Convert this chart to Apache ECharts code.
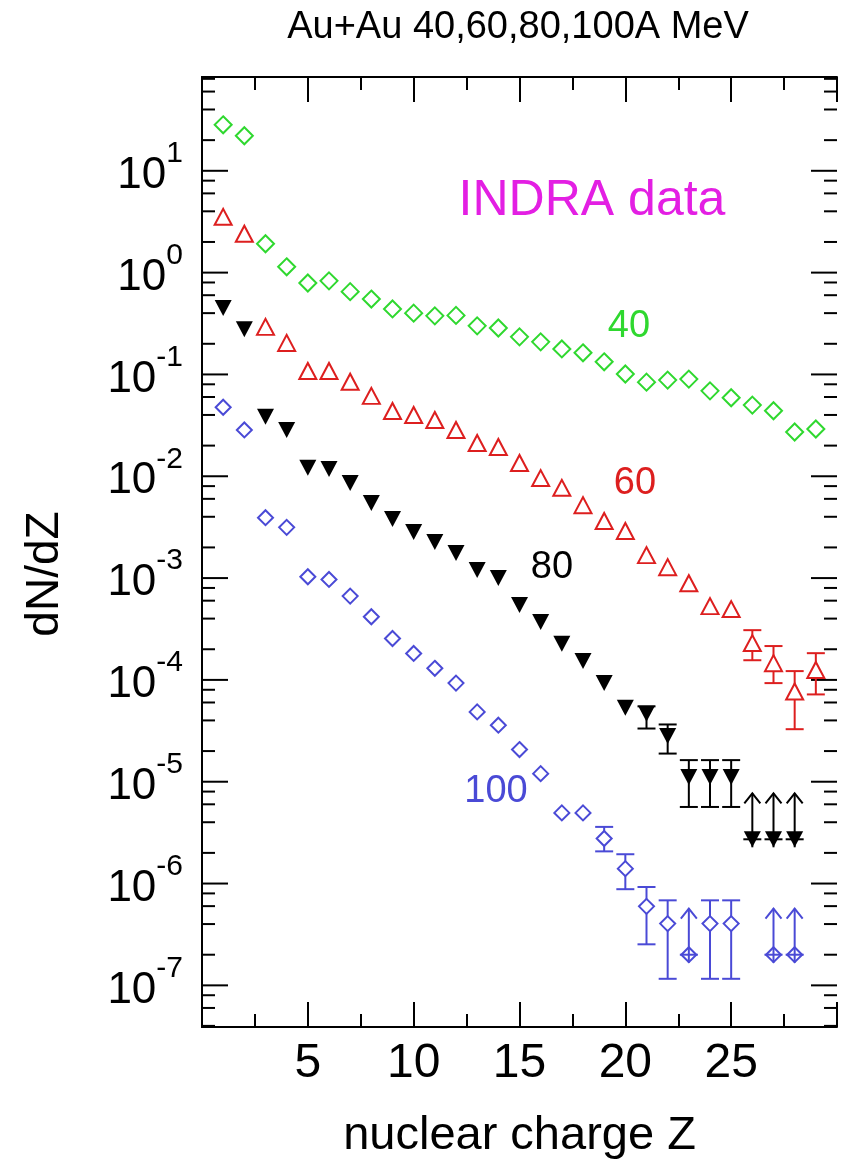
<!DOCTYPE html>
<html>
<head>
<meta charset="utf-8">
<title>Au+Au dN/dZ</title>
<script src="https://cdn.jsdelivr.net/npm/echarts@6.0.0/dist/echarts.min.js"></script>
<style>
  html, body { margin: 0; padding: 0; background: #fff; }
  #chart { width: 846px; height: 1169px; }
</style>
</head>
<body>
<div id="chart"></div>
<script>
// nuclear charge of each point
var charges = [1, 2, 3, 4, 5, 6, 7, 8, 9, 10, 11, 12, 13, 14, 15, 16, 17, 18, 19, 20,
  21, 22, 23, 24, 25, 26, 27, 28, 29];

// dN/dZ per beam energy (A MeV)
var yield40 = [28.3, 22.1, 1.92, 1.14, 0.79, 0.83, 0.65, 0.55, 0.44, 0.40, 0.376, 0.38, 0.30,
  0.286, 0.234, 0.209, 0.178, 0.163, 0.133, 0.101, 0.084, 0.088, 0.090, 0.069, 0.059, 0.050,
  0.044, 0.0272, 0.0291];
var yield60 = [3.53, 2.41, 0.293, 0.204, 0.108, 0.108, 0.0847, 0.0616, 0.0438, 0.040, 0.0357,
  0.0285, 0.0212, 0.0194, 0.0135, 0.0096, 0.0077, 0.0052, 0.00364, 0.0029, 0.00168, 0.00128,
  0.00089, 0.00053, 0.000496, 0.00023, 0.000146, 0.000077, 0.000125];
var yield80 = [0.448, 0.278, 0.0385, 0.0285, 0.0121, 0.0118, 0.0086, 0.00546, 0.0038, 0.00283,
  0.00226, 0.00176, 0.0012, 0.001, 0.000543, 0.00037, 0.000227, 0.000153, 9.3e-5, 5.34e-5,
  4.64e-5, 2.82e-5, 1.11e-5, 1.11e-5, 1.11e-5, 2.72e-6, 2.72e-6, 2.72e-6];
var yield100 = [0.0476, 0.0285, 0.00392, 0.00315, 0.00103, 0.00097, 0.000665, 0.000417,
  0.000255, 0.000182, 0.00013, 9.3e-5, 4.85e-5, 3.59e-5, 2.07e-5, 1.2e-5, 4.94e-6, 4.94e-6,
  2.77e-6, 1.4e-6, 5.97e-7, 4.04e-7, 2.0e-7, 4.04e-7, 4.04e-7, null, 2.0e-7, 2.0e-7];

// error bars (low / high)
var err60Z = [26, 27, 28, 29];
var err60Low = [1.56e-4, 9.3e-5, 3.28e-5, 7.2e-5];
var err60High = [3.08e-4, 2.15e-4, 1.22e-4, 1.83e-4];
var err80Z = [21, 22, 23, 24, 25];
var err80Low = [3.33e-5, 1.89e-5, 5.65e-6, 5.65e-6, 5.65e-6];
var err80High = [5.5e-5, 3.65e-5, 1.63e-5, 1.63e-5, 1.63e-5];
var err100Z = [19, 20, 21, 22, 24, 25];
var err100Low = [2.07e-6, 8.8e-7, 2.53e-7, 1.16e-7, 1.16e-7, 1.16e-7];
var err100High = [3.6e-6, 1.94e-6, 9.25e-7, 6.84e-7, 6.84e-7, 6.84e-7];

// limits drawn as arrows going up from the point
var arrow80Z = [26, 27, 28];
var arrow80Tip = [7.7e-6, 7.7e-6, 7.7e-6];
var arrow100Z = [23, 27, 28];
var arrow100Tip = [5.68e-7, 5.68e-7, 5.68e-7];

// axes
var zMin = 0, zMax = 30, zStep = 5;
var yMin = 3.9e-8, yMax = 83.4;
var decades = [-8, -7, -6, -5, -4, -3, -2, -1, 0, 1];
var tickMantissas = [1, 2, 4, 6, 8];

var GREEN = '#2fd82f';
var RED = '#dd1f1f';
var BLUE = '#4a4ad6';
var MAGENTA = '#e31fe3';
var FONT = '"Liberation Sans", Arial, sans-serif';

function pairs(values) {
  var out = [];
  for (var i = 0; i < values.length; i++) {
    if (values[i] != null) out.push([charges[i], values[i]]);
  }
  return out;
}

function barData(zs, lows, highs) {
  return zs.map(function (z, i) { return [z, lows[i], highs[i]]; });
}

function arrowData(zs, values, tips) {
  return zs.map(function (z, i) { return [z, values[z - 1], tips[i]]; });
}

function isDecade(v) {
  var l = Math.log10(v);
  return Math.abs(l - Math.round(l)) < 1e-6;
}

function renderErrorBar(params, api) {
  var z = api.value(0);
  var lo = api.coord([z, api.value(1)]);
  var hi = api.coord([z, api.value(2)]);
  var half = 9;
  var style = { stroke: api.visual('color'), lineWidth: 2 };
  return {
    type: 'group',
    children: [
      { type: 'line', shape: { x1: lo[0], y1: lo[1], x2: hi[0], y2: hi[1] }, style: style },
      { type: 'line', shape: { x1: lo[0] - half, y1: lo[1], x2: lo[0] + half, y2: lo[1] }, style: style },
      { type: 'line', shape: { x1: hi[0] - half, y1: hi[1], x2: hi[0] + half, y2: hi[1] }, style: style }
    ]
  };
}

function renderArrow(params, api) {
  var z = api.value(0);
  var base = api.coord([z, api.value(1)]);
  var tip = api.coord([z, api.value(2)]);
  var half = 9;
  var style = { stroke: api.visual('color'), lineWidth: 2, fill: null };
  return {
    type: 'group',
    children: [
      { type: 'line', shape: { x1: base[0], y1: base[1] + 8, x2: tip[0], y2: tip[1] }, style: style },
      { type: 'line', shape: { x1: base[0] - half, y1: base[1], x2: base[0] + half, y2: base[1] }, style: style },
      { type: 'polyline', shape: { points: [[tip[0] - 8, tip[1] + 10], [tip[0], tip[1]], [tip[0] + 8, tip[1] + 10]] }, style: style }
    ]
  };
}

// log-axis ticks (decades long, 2,4,6,8 short) on both sides, pointing inward
function renderYTick(params, api) {
  var v = api.value(1);
  var p = api.coord([zMin, v]);
  var cs = params.coordSys;
  var len = isDecade(v) ? 26 : 13;
  var style = { stroke: '#000', lineWidth: 2 };
  return {
    type: 'group',
    children: [
      { type: 'line', shape: { x1: cs.x, y1: p[1], x2: cs.x + len, y2: p[1] }, style: style },
      { type: 'line', shape: { x1: cs.x + cs.width - len, y1: p[1], x2: cs.x + cs.width, y2: p[1] }, style: style }
    ]
  };
}

var yTicks = [];
decades.forEach(function (k) {
  tickMantissas.forEach(function (m) {
    var v = m * Math.pow(10, k);
    if (v > yMin && v < yMax) yTicks.push([zMin, v]);
  });
});

function yLabel(v) {
  if (!isDecade(v)) return '';
  return '{b|10}{e|' + Math.round(Math.log10(v)) + '}';
}

var chart = echarts.init(document.getElementById('chart'), null, { renderer: 'canvas' });

var xAxisBase = {
  type: 'value',
  min: zMin,
  max: zMax,
  interval: zStep,
  axisLine: { show: true, lineStyle: { color: '#000', width: 2 } },
  axisTick: { show: true, inside: true, length: 25, lineStyle: { color: '#000', width: 2 } },
  minorTick: { show: true, splitNumber: 2, length: 13, lineStyle: { color: '#000', width: 2 } },
  splitLine: { show: false }
};

var yAxisBase = {
  type: 'log',
  logBase: 10,
  min: yMin,
  max: yMax,
  axisLine: { show: true, lineStyle: { color: '#000', width: 2 } },
  axisTick: { show: false },
  splitLine: { show: false }
};

var option = {
  animation: false,
  backgroundColor: '#fff',
  textStyle: { fontFamily: FONT },
  grid: { left: 202, right: 9, top: 77, bottom: 142 },
  xAxis: [
    Object.assign({}, xAxisBase, {
      position: 'bottom',
      name: 'nuclear charge Z',
      nameLocation: 'middle',
      nameGap: 86,
      nameTextStyle: { fontSize: 47, color: '#000', fontFamily: FONT },
      axisLabel: {
        show: true, fontSize: 48, color: '#000', margin: 13, fontFamily: FONT,
        formatter: function (v) { return (v > zMin && v < zMax) ? String(v) : ''; }
      }
    }),
    Object.assign({}, xAxisBase, { position: 'top', axisLabel: { show: false } })
  ],
  yAxis: [
    Object.assign({}, yAxisBase, {
      position: 'left',
      axisLabel: {
        show: true, margin: 19, color: '#000', fontFamily: FONT,
        formatter: yLabel,
        rich: {
          b: { fontSize: 44, lineHeight: 44, padding: [10, 0, 0, 0], verticalAlign: 'middle', color: '#000', fontFamily: FONT },
          e: { fontSize: 30, lineHeight: 30, padding: [0, 0, 34, 0], verticalAlign: 'middle', color: '#000', fontFamily: FONT }
        }
      }
    }),
    Object.assign({}, yAxisBase, { position: 'right', axisLabel: { show: false } })
  ],
  series: [
    {
      type: 'custom', name: 'y ticks', silent: true, z: 1,
      renderItem: renderYTick, data: yTicks, clip: false
    },
    {
      type: 'custom', name: 'err60', silent: true, z: 2, itemStyle: { color: RED },
      renderItem: renderErrorBar, data: barData(err60Z, err60Low, err60High)
    },
    {
      type: 'custom', name: 'err80', silent: true, z: 2, itemStyle: { color: '#000' },
      renderItem: renderErrorBar, data: barData(err80Z, err80Low, err80High)
    },
    {
      type: 'custom', name: 'err100', silent: true, z: 2, itemStyle: { color: BLUE },
      renderItem: renderErrorBar, data: barData(err100Z, err100Low, err100High)
    },
    {
      type: 'scatter', name: '40', z: 3, symbol: 'diamond', symbolSize: [17, 17],
      itemStyle: { color: '#fff', borderColor: GREEN, borderWidth: 2, opacity: 1 },
      data: pairs(yield40)
    },
    {
      type: 'scatter', name: '60', z: 3, symbol: 'triangle', symbolSize: [17, 16],
      itemStyle: { color: '#fff', borderColor: RED, borderWidth: 2, opacity: 1 },
      data: pairs(yield60)
    },
    {
      type: 'scatter', name: '80', z: 3, symbol: 'triangle', symbolRotate: 180, symbolSize: [17, 16],
      itemStyle: { color: '#000', opacity: 1 },
      data: pairs(yield80)
    },
    {
      type: 'scatter', name: '100', z: 3, symbol: 'diamond', symbolSize: [15, 15],
      itemStyle: { color: '#fff', borderColor: BLUE, borderWidth: 2, opacity: 1 },
      data: pairs(yield100)
    },
    {
      type: 'custom', name: 'lim80', silent: true, z: 4, itemStyle: { color: '#000' },
      renderItem: renderArrow, data: arrowData(arrow80Z, yield80, arrow80Tip)
    },
    {
      type: 'custom', name: 'lim100', silent: true, z: 4, itemStyle: { color: BLUE },
      renderItem: renderArrow, data: arrowData(arrow100Z, yield100, arrow100Tip)
    }
  ],
  graphic: [
    { type: 'text', x: 518, y: 28, style: { text: 'Au+Au 40,60,80,100A MeV', font: '38px ' + FONT, fill: '#000', align: 'center', verticalAlign: 'middle' } },
    { type: 'text', x: 45, y: 574, rotation: Math.PI / 2, style: { text: 'dN/dZ', font: '46px ' + FONT, fill: '#000', align: 'center', verticalAlign: 'middle' } },
    { type: 'text', x: 592, y: 201, style: { text: 'INDRA data', font: '50px ' + FONT, fill: MAGENTA, align: 'center', verticalAlign: 'middle' } },
    { type: 'text', x: 629, y: 327, style: { text: '40', font: '38px ' + FONT, fill: GREEN, align: 'center', verticalAlign: 'middle' } },
    { type: 'text', x: 635, y: 484, style: { text: '60', font: '38px ' + FONT, fill: RED, align: 'center', verticalAlign: 'middle' } },
    { type: 'text', x: 552, y: 568, style: { text: '80', font: '38px ' + FONT, fill: '#000', align: 'center', verticalAlign: 'middle' } },
    { type: 'text', x: 496, y: 792, style: { text: '100', font: '38px ' + FONT, fill: BLUE, align: 'center', verticalAlign: 'middle' } }
  ]
};

chart.setOption(option);
</script>
</body>
</html>
